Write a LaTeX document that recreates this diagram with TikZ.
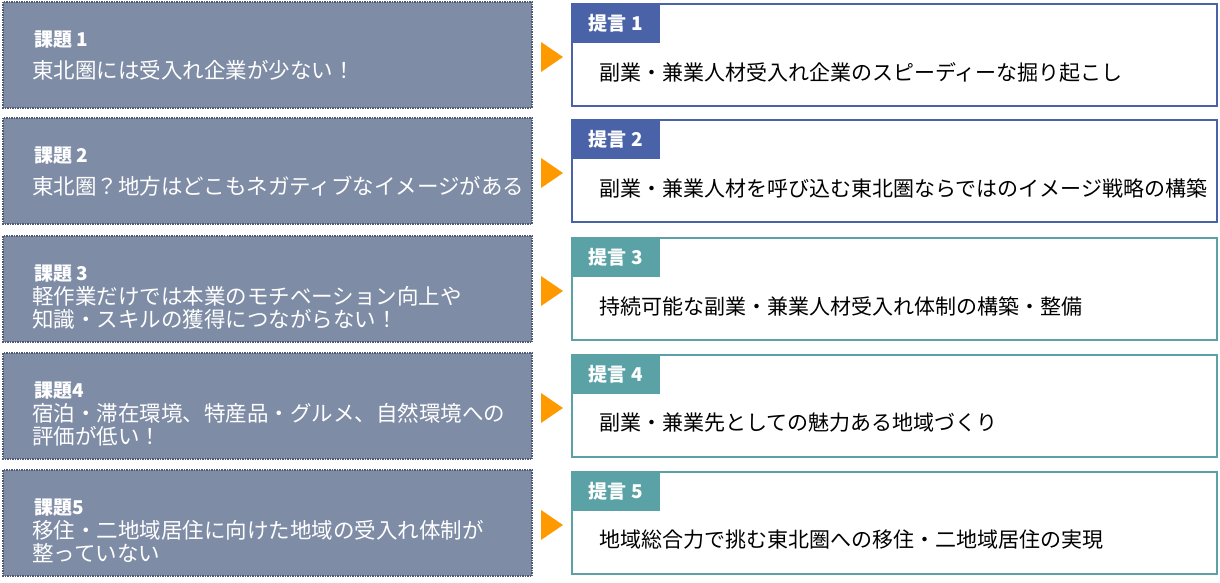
\documentclass[tikz,border=0pt]{standalone}
\usepackage{fontspec}
\setmainfont{Noto Sans CJK JP}
\begin{document}
\begin{tikzpicture}[x=1pt,y=-1pt,
 lbox/.style={fill=lgray,draw=dgray,line width=2.5pt,dash pattern=on 1.5pt off 1pt},
 rbox/.style={fill=white,draw=#1,line width=2.2pt},
 tab/.style={fill=#1,text=white,font=\bfseries\fontsize{19}{22}\selectfont,anchor=north west,minimum width=89pt,minimum height=40pt,inner sep=0pt},
 ttl/.style={anchor=west,text=white,font=\bfseries\fontsize{19}{22}\selectfont,inner sep=0pt},
 bod/.style={anchor=north west,text=white,font=\fontsize{21.5}{23.5}\selectfont,inner sep=0pt,align=left},
 prop/.style={anchor=west,font=\fontsize{21}{24}\selectfont,inner sep=0pt},
 tri/.style={fill=orng}]
\definecolor{lgray}{HTML}{7F8CA6}
\definecolor{dgray}{HTML}{4F5A72}
\definecolor{blu}{HTML}{4A63A8}
\definecolor{tel}{HTML}{5AA2A6}
\definecolor{orng}{HTML}{FF9900}
\useasboundingbox (0,0) rectangle (1220,583);
\foreach \i/\t/\c/\bt/\p in {
 1/2/blu/{東北圏には受入れ企業が少ない！}/{副業・兼業人材受入れ企業のスピーディーな掘り起こし},
 2/118/blu/{東北圏？地方はどこもネガティブなイメージがある}/{副業・兼業人材を呼び込む東北圏ならではのイメージ戦略の構築},
 3/236/tel/{軽作業だけでは本業のモチベーション向上や\\知識・スキルの獲得につながらない！}/{持続可能な副業・兼業人材受入れ体制の構築・整備},
 4/353/tel/{宿泊・滞在環境、特産品・グルメ、自然環境への\\評価が低い！}/{副業・兼業先としての魅力ある地域づくり},
 5/470/tel/{移住・二地域居住に向けた地域の受入れ体制が\\整っていない}/{地域総合力で挑む東北圏への移住・二地域居住の実現}}{
 \draw[lbox] (3,\t) rectangle (532,\t+106);
 \node[ttl] (k\i) at (34,\t+38) {課題\ifnum\i<4 \ \fi\i};
 \node[bod] (b\i) at (32,\t+\ifnum\i<3 58\else 50\fi) {\bt};
 \draw[rbox=\c] (572,\t+2) rectangle (1217,\t+104);
 \node[tab=\c] (t\i) at (571,\t+1) {提言 \i};
 \node[prop] (p\i) at (599,\t+70) {\p};
 \fill[tri] (541,\t+40) -- (563,\t+55) -- (541,\t+70) -- cycle;
}
\end{tikzpicture}
\end{document}
